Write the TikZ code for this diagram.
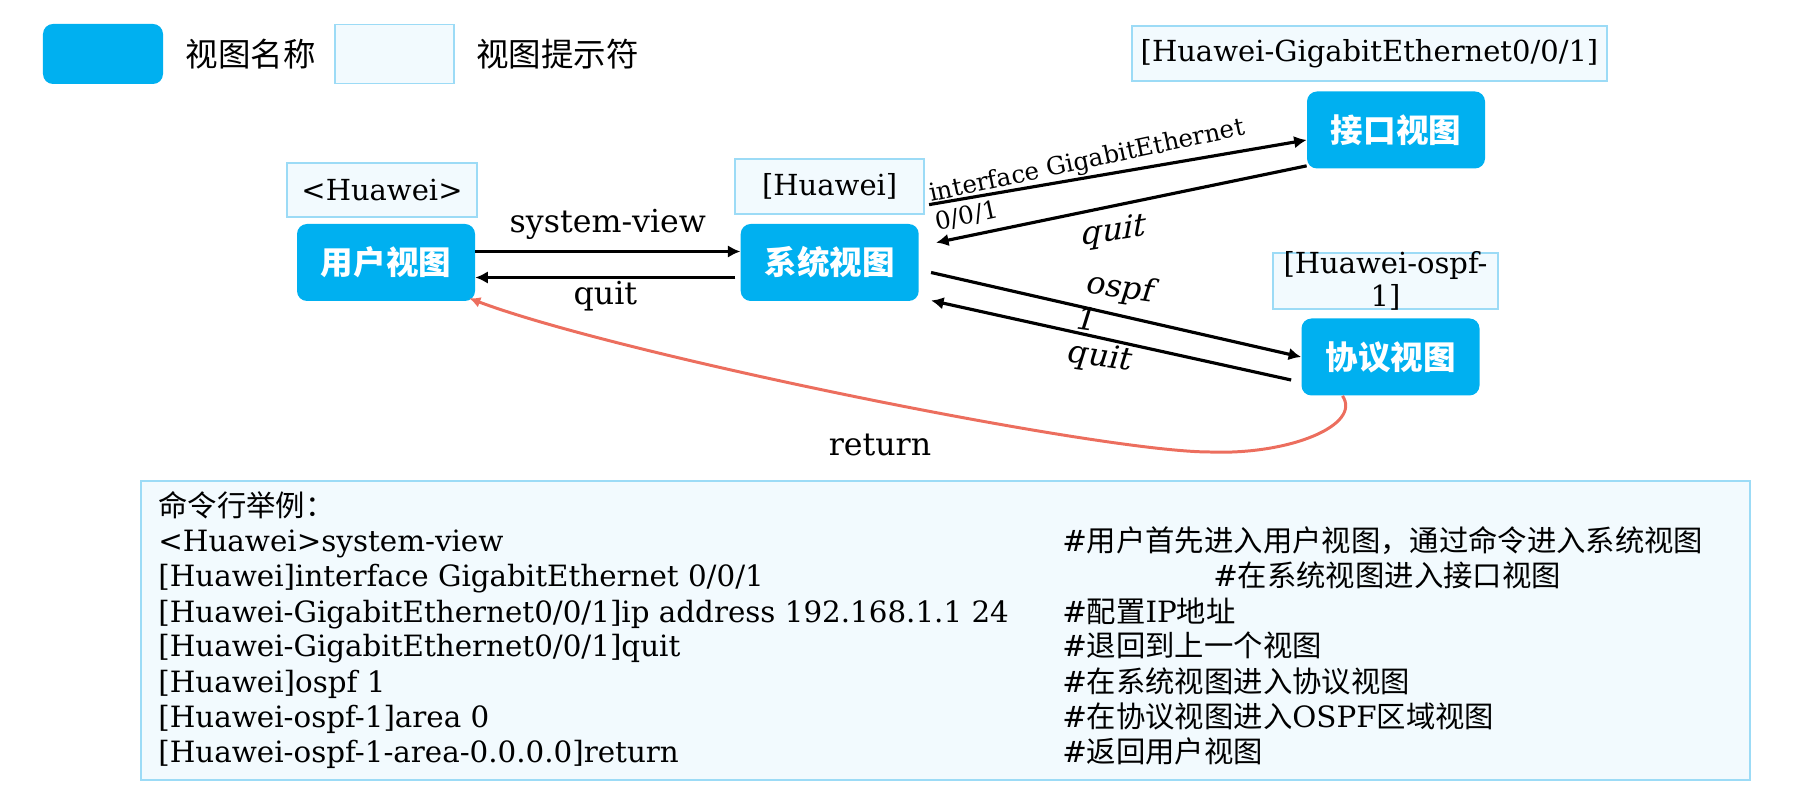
\documentclass[tikz,border=0pt]{standalone}
\usepackage{fontspec}
\setmainfont{DejaVu Serif}
\newfontfamily\cjk{Noto Sans CJK SC}
\usepackage{tikz}
\usepackage{xcolor}
\usetikzlibrary{arrows.meta,calc,positioning}
\definecolor{viewblue}{HTML}{00B0F0}
\definecolor{promptfill}{HTML}{F2FAFE}
\definecolor{promptline}{HTML}{9CDBF6}
\definecolor{retred}{HTML}{EC6E5E}
\newcommand\viewfont{\cjk\bfseries\fontsize{18.5}{22}\selectfont}
\newcommand\legfont{\cjk\fontsize{18.5}{22}\selectfont}
\newcommand\promptfont{\fontsize{16.5}{19}\selectfont}
\newcommand\lblfont{\fontsize{18}{18.5}\selectfont}
\newcommand\smallfont{\fontsize{14}{17}\selectfont}
\newcommand\codefont{\fontsize{16.7}{20}\selectfont}
\tikzset{%
  arrow/.style={line width=1.8pt,-{Latex[length=2.5mm,width=2.5mm]}},
  ret/.style={draw=retred,line width=1.7pt,-{Latex[length=2.2mm,width=2.2mm]}},
  view/.style={rectangle,rounded corners=2mm,fill=viewblue,text=white,minimum width=35.6mm,minimum height=15.4mm,font=\viewfont},
  prompt/.style={rectangle,draw=promptline,line width=1.1pt,fill=promptfill,inner sep=0pt,font=\promptfont},
  legtext/.style={inner sep=0pt,font=\legfont},
  lbl/.style={inner sep=0pt,font=\lblfont},
  codebox/.style={rectangle,draw=promptline,line width=1.1pt,fill=promptfill},
  codeline/.style={anchor=base west,inner sep=0pt,font=\codefont},
}

\begin{document}
\begin{tikzpicture}[x=0.2mm,y=-0.2mm]
  \useasboundingbox (0,0) rectangle (1809,807);
  % legend
  \node[view,minimum width=24mm,minimum height=12mm] (legview) at (103,54) {};
  \node[legtext,right=4.4mm of legview] (legname) {视图名称};
  \node[prompt,minimum width=23.8mm,minimum height=11.8mm,right=3.6mm of legname] (legprompt) {};
  \node[legtext,right=4.2mm of legprompt] (legtip) {视图提示符};

  % views
  \node[view] (user) at (386,262.5) {用户视图};
  \node[view,right=53mm of user] (sys) {系统视图};
  \node[view] (intf) at (1396,130) {接口视图};
  \node[view] (proto) at (1390.5,357) {协议视图};

  % prompts
  \node[prompt,minimum width=38mm,minimum height=10.8mm,above=1.2mm of user,xshift=-0.8mm] (userp) {<Huawei>};
  \node[prompt,minimum width=37.8mm,minimum height=11mm,above=1.8mm of sys] (sysp) {[Huawei]};
  \node[prompt,minimum width=95mm,minimum height=11mm,above=1.8mm of intf,xshift=-5.3mm] (intfp) {[Huawei-GigabitEthernet0/0/1]};
  \node[prompt,minimum width=45mm,minimum height=11.2mm,above=1.6mm of proto,xshift=-1mm] (protop) {};
  \node[inner sep=0pt,align=center,font=\promptfont] (protoptext) at (protop) {[Huawei-ospf-\\1]};

  % commands
  \draw[arrow] ($(user.east)+(0,-11)$) -- node[lbl,yshift=5.4mm] {system-view} ($(sys.west)+(0,-11)$);
  \draw[arrow] ($(sys.west)+(-5,15)$) -- node[lbl,yshift=-3.8mm] {quit} ($(user.east)+(0,15)$);
  \draw[arrow] ($(sys.north east)+(10,-19)$) -- node[lbl,font=\smallfont,align=left,xshift=-5.6mm,yshift=-0.5mm,rotate=12] {interface GigabitEthernet\\0/0/1} ($(intf.west)+(0,10)$);
  \draw[arrow] ($(intf.south west)+(0,-3)$) -- node[lbl,xshift=-1.4mm,yshift=-5.6mm,yslant=0.16,xslant=0.2] {quit} ($(sys.north east)+(17,19)$);
  \draw[arrow] ($(sys.east)+(12,10)$) -- node[lbl,font=\fontsize{18}{21}\selectfont,align=left,yshift=2.2mm,yslant=-0.14,xslant=0.3] {ospf\\1} (proto.west);
  \draw[arrow] ($(proto.west)+(-10,23)$) -- node[lbl,xshift=-2.2mm,yshift=-3.6mm,yslant=-0.14,xslant=0.3] {quit} ($(sys.east)+(12,38)$);
  \draw[ret] ($(proto.south)+(-48,0)$) .. controls (1362,425) and (1290,455) .. (1210,452) .. controls (1100,452) and (620,355) .. ($(user.south east)+(-6,-3)$);
  \node[lbl] (retlbl) at (880,445) {return};

  % example
  \node[codebox,minimum width=321.8mm,minimum height=59.8mm] (code) at (945.5,630.5) {};
  \foreach \cmd [count=\i from 0] in {%
    {{\cjk 命令行举例：}},
    {<Huawei>system-view},
    {[Huawei]interface GigabitEthernet 0/0/1},
    {[Huawei-GigabitEthernet0/0/1]ip address 192.168.1.1 24},
    {[Huawei-GigabitEthernet0/0/1]quit},
    {[Huawei]ospf 1},
    {[Huawei-ospf-1]area 0},
    {[Huawei-ospf-1-area-0.0.0.0]return}%
  } \node[codeline] (cmd\i) at (158,{517+35*\i}) {\cmd};
  \foreach \cx/\ctext [count=\i from 1] in {%
    1062/{\#{\cjk 用户首先进入用户视图，通过命令进入系统视图}},
    1213/{\#{\cjk 在系统视图进入接口视图}},
    1062/{\#{\cjk 配置}IP{\cjk 地址}},
    1062/{\#{\cjk 退回到上一个视图}},
    1062/{\#{\cjk 在系统视图进入协议视图}},
    1062/{\#{\cjk 在协议视图进入}OSPF{\cjk 区域视图}},
    1062/{\#{\cjk 返回用户视图}}%
  } \node[codeline] (note\i) at (\cx,{517+35*\i}) {\ctext};
\end{tikzpicture}
\end{document}
